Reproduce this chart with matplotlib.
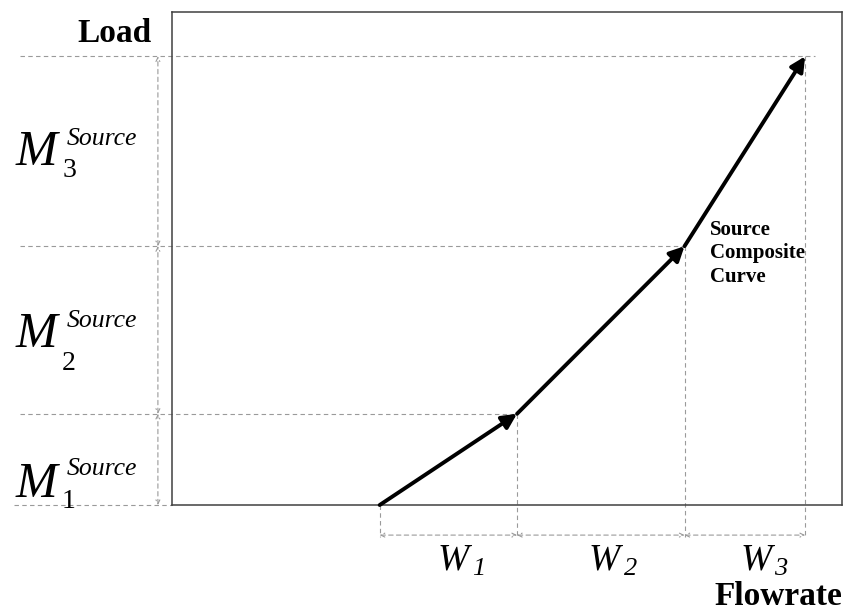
import matplotlib
matplotlib.use("Agg")
import matplotlib.pyplot as plt
import numpy as np

plt.rcParams["font.family"] = ["Liberation Serif", "DejaVu Serif"]

# schematic source composite curve (arbitrary units)
FLOW_START = 31.0
W_SEG = [20.5, 25.0, 18.0]          # flowrate of each source segment
M_SEG = [18.5, 34.0, 38.5]          # load of each source segment
SUBS = ["1", "2", "3"]

xs = FLOW_START + np.concatenate([[0], np.cumsum(W_SEG)])
ys = np.concatenate([[0], np.cumsum(M_SEG)])

DASH = dict(color="#9a9a9a", lw=0.8, ls=(0, (4, 3)), clip_on=False)
DIM_Y = -6.1        # level of the flowrate dimension line
DIM_X = -2.1        # position of the load dimension line
LEFT = -22.7

fig = plt.figure(figsize=(8.56, 6.12), dpi=100)
ax = fig.add_axes([0.2009, 0.1748, 0.7827, 0.8056])
ax.set_xlim(0, 100)
ax.set_ylim(0, 100)
ax.set_xticks([])
ax.set_yticks([])
for s in ax.spines.values():
    s.set_color("#404040")
    s.set_linewidth(1.1)

# guide lines
ax.plot([-23.6, 0], [0, 0], **DASH)
for i in range(1, 4):
    x_end = xs[i] + (1.5 if i == 3 else 0)
    ax.plot([LEFT, x_end], [ys[i], ys[i]], **DASH)
for i in range(4):
    ax.plot([xs[i], xs[i]], [ys[i], DIM_Y - 0.4], **DASH)

# dimension arrows
dim_arrow = dict(arrowstyle="<->", color="#9a9a9a", lw=0.8, ls=(0, (4, 3)),
                 shrinkA=0, shrinkB=0, mutation_scale=7)
for i in range(3):
    ax.annotate("", xy=(DIM_X, ys[i + 1]), xytext=(DIM_X, ys[i]),
                arrowprops=dim_arrow, annotation_clip=False)
    ax.annotate("", xy=(xs[i + 1], DIM_Y), xytext=(xs[i], DIM_Y),
                arrowprops=dim_arrow, annotation_clip=False)

# composite curve
for i in range(3):
    ax.annotate("", xy=(xs[i + 1], ys[i + 1]), xytext=(xs[i], ys[i]),
                arrowprops=dict(arrowstyle="-|>", color="black", lw=2.8,
                                shrinkA=0, shrinkB=0, mutation_scale=22),
                annotation_clip=False)

ax.text(80.3, 57.9, "Source\nComposite\nCurve", fontsize=15, fontweight="bold",
        ha="left", va="top", linespacing=1.25)

# axis titles
ax.text(-3.0, 93.9, "Load", fontsize=24, fontweight="bold", ha="right",
        va="baseline", clip_on=False)
ax.text(100, -20.3, "Flowrate", fontsize=24, fontweight="bold", ha="right",
        va="baseline", clip_on=False)

# W labels (W and italic subscript placed separately)
w_left = [39.7, 62.1, 84.8]
w_sub_left = [44.8, 67.5, 89.9]
for sub, wl, sl in zip(SUBS, w_left, w_sub_left):
    ax.text(wl, -13.1, "W", fontsize=27, fontstyle="italic", ha="left",
            va="baseline", clip_on=False)
    ax.text(sl, -14.2, sub, fontsize=19, fontstyle="italic", ha="left",
            va="baseline", clip_on=False)

# M labels (M, subscript, superscript placed separately)
m_base = [1.6, 32.0, 69.0]
sub_base = [-0.6, 27.4, 66.5]
sup_base = [6.1, 36.1, 73.0]
for sub, mb, sb, pb in zip(SUBS, m_base, sub_base, sup_base):
    ax.text(-23.4, mb, "M", fontsize=36, fontstyle="italic", ha="left",
            va="baseline", clip_on=False)
    ax.text(-16.4, sb, sub, fontsize=20, ha="left", va="baseline",
            clip_on=False)
    ax.text(-15.7, pb, "Source", fontsize=18.5, fontstyle="italic", ha="left",
            va="baseline", clip_on=False)

fig.savefig("out.png", dpi=100)
